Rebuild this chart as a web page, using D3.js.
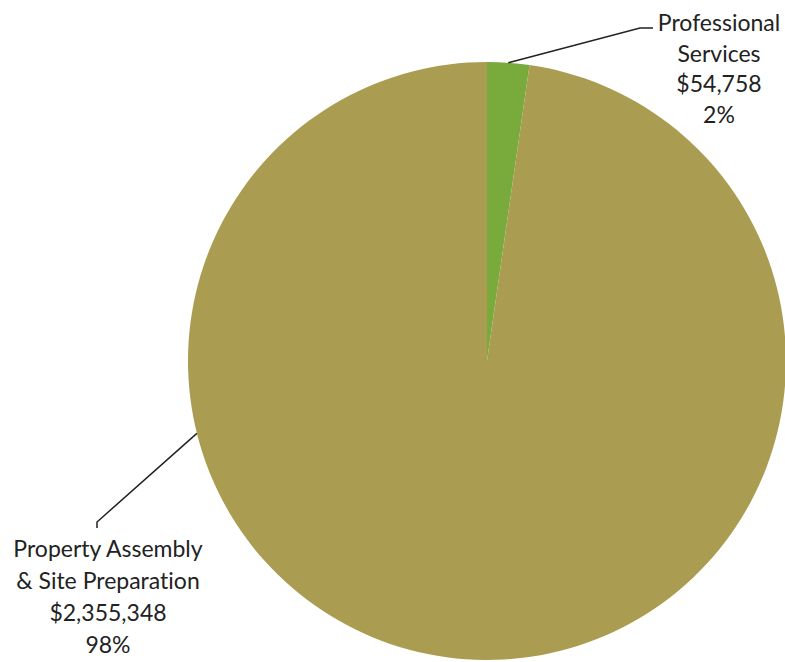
<!DOCTYPE html>
<html>
<head>
<meta charset="utf-8">
<script src="https://cdn.jsdelivr.net/npm/d3@7"></script>
<style>
  body { margin: 0; background: #fff; }
  text { font-family: Lato, "Noto Sans", sans-serif; fill: #222; font-variant-ligatures: none; }
</style>
</head>
<body>
<div id="chart"></div>
<script>
// categories and values
const categories = ["Professional Services", "Property Assembly & Site Preparation"];
const labelLines = [["Professional", "Services"], ["Property Assembly", "& Site Preparation"]];
const amounts = [54758, 2355348];
const colors = ["#79ab3c", "#aa9d51"];

const width = 785, height = 662;
const cx = 487, cy = 361, radius = 299;

// label layout: angle where leader leaves the pie, elbow, text anchor
const labelLayout = [
  { angle: null, elbow: [640, 28], end: [653, 28], tx: 719, ty: 31, step: 30.5 },
  { angle: 256, elbow: [97, 522], end: [97, 528], tx: 108, ty: 557, step: 32 }
];

const svg = d3.select("#chart").append("svg")
  .attr("width", width)
  .attr("height", height);

const total = d3.sum(amounts);
const data = categories.map((c, i) => ({ name: c, value: amounts[i], i }));

const pie = d3.pie().sort(null).value(d => d.value);
const arc = d3.arc().innerRadius(0).outerRadius(radius);
const arcs = pie(data);

const g = svg.append("g").attr("transform", `translate(${cx},${cy})`);

g.selectAll("path.slice")
  .data(arcs)
  .join("path")
  .attr("class", "slice")
  .attr("d", arc)
  .attr("fill", d => colors[d.data.i]);

const fmt = d3.format("$,");
const pct = d3.format(".0%");

arcs.forEach((a, i) => {
  const lay = labelLayout[i];
  const ang = lay.angle == null ? (a.startAngle + a.endAngle) / 2 : lay.angle * Math.PI / 180;
  const sx = cx + radius * Math.sin(ang);
  const sy = cy - radius * Math.cos(ang);

  svg.append("polyline")
    .attr("points", [[sx, sy], lay.elbow, lay.end].map(p => p.join(",")).join(" "))
    .attr("fill", "none")
    .attr("stroke", "#222")
    .attr("stroke-width", 1.5);

  const lines = labelLines[i].concat([fmt(a.data.value), pct(a.data.value / total)]);
  const t = svg.append("text")
    .attr("text-anchor", "middle")
    .attr("font-size", 23);
  lines.forEach((l, j) => {
    t.append("tspan")
      .attr("x", lay.tx)
      .attr("y", lay.ty + j * lay.step)
      .text(l);
  });
});
</script>
</body>
</html>
